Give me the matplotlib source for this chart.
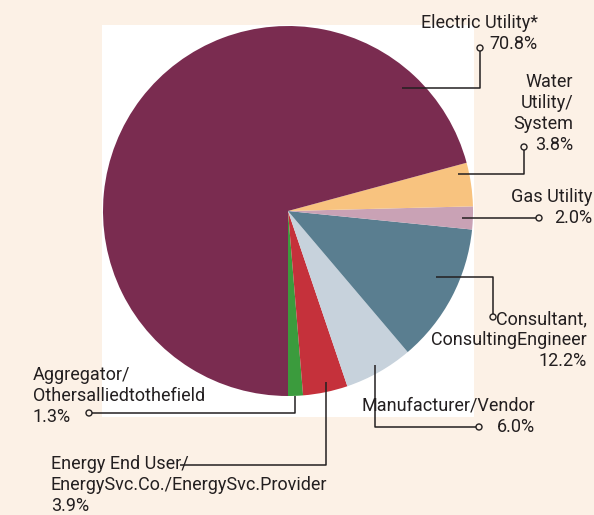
import numpy as np
import matplotlib.pyplot as plt
from matplotlib.patches import Rectangle, Circle

plt.rcParams["font.family"] = ["Roboto", "DejaVu Sans"]

# slices, counter-clockwise starting straight down
categories = ["Aggregator/\nOthersalliedtothefield",
              "Energy End User/\nEnergySvc.Co./EnergySvc.Provider",
              "Manufacturer/Vendor",
              "Consultant,\nConsultingEngineer",
              "Gas Utility",
              "Water\nUtility/\nSystem",
              "Electric Utility*"]
shares = [1.3, 3.9, 6.0, 12.2, 2.0, 3.8, 70.8]
colors = ["#3b9b3d", "#c5313b", "#c7d2dc", "#5a7e90", "#c9a2b5", "#f8c37f", "#7a2c50"]

bg = "#fcf1e6"
ink = "#231f20"
W, H = 594, 515

fig = plt.figure(figsize=(W / 100, H / 100), dpi=100)
fig.patch.set_facecolor(bg)
ax = fig.add_axes([0, 0, 1, 1])

ax.add_patch(Rectangle((102, 25), 372, 392, facecolor="white", edgecolor="none", zorder=0))

# y axis is flipped below, so counterclock=False gives a visually counter-clockwise pie
ax.pie(shares, colors=colors, startangle=90, counterclock=False,
       center=(288, 211), radius=185, frame=True,
       wedgeprops=dict(linewidth=0))
ax.set_xlim(0, W)
ax.set_ylim(H, 0)
ax.axis("off")

# label layout: text anchor x, first line y, alignment, leader path, ring at end?
layout = {
    "Electric Utility*": (538, 23, "right", [(402, 88), (480, 88), (480, 48)], True),
    "Water\nUtility/\nSystem": (573, 82, "right", [(458, 174), (524, 174), (524, 147)], True),
    "Gas Utility": (592, 197, "right", [(462, 218), (539, 218)], True),
    "Consultant,\nConsultingEngineer": (587, 319, "right", [(436, 277), (493, 277), (493, 317)], True),
    "Manufacturer/Vendor": (535, 406, "right", [(375, 365), (375, 427), (479, 427)], True),
    "Aggregator/\nOthersalliedtothefield": (33, 375, "left", [(295, 396), (295, 413), (89, 413)], True),
    "Energy End User/\nEnergySvc.Co./EnergySvc.Provider": (51, 464, "left", [(326, 382), (326, 465), (180, 465)], False),
}
step = 21

for cat, val in zip(categories, shares):
    x, y0, ha, path, ring = layout[cat]
    lines = cat.split("\n") + [f"{val:.1f}%"]
    for i, line in enumerate(lines):
        ax.text(x, y0 + i * step, line, ha=ha, va="center", fontsize=13,
                color=ink, zorder=3)
    px, py = zip(*path)
    ax.plot(px, py, color=ink, lw=1.1, zorder=4, solid_capstyle="butt")
    if ring:
        ax.add_patch(Circle(path[-1], 3, facecolor=bg, edgecolor=ink, lw=1.0, zorder=5))

fig.savefig("out.png", dpi=100, facecolor=bg)
